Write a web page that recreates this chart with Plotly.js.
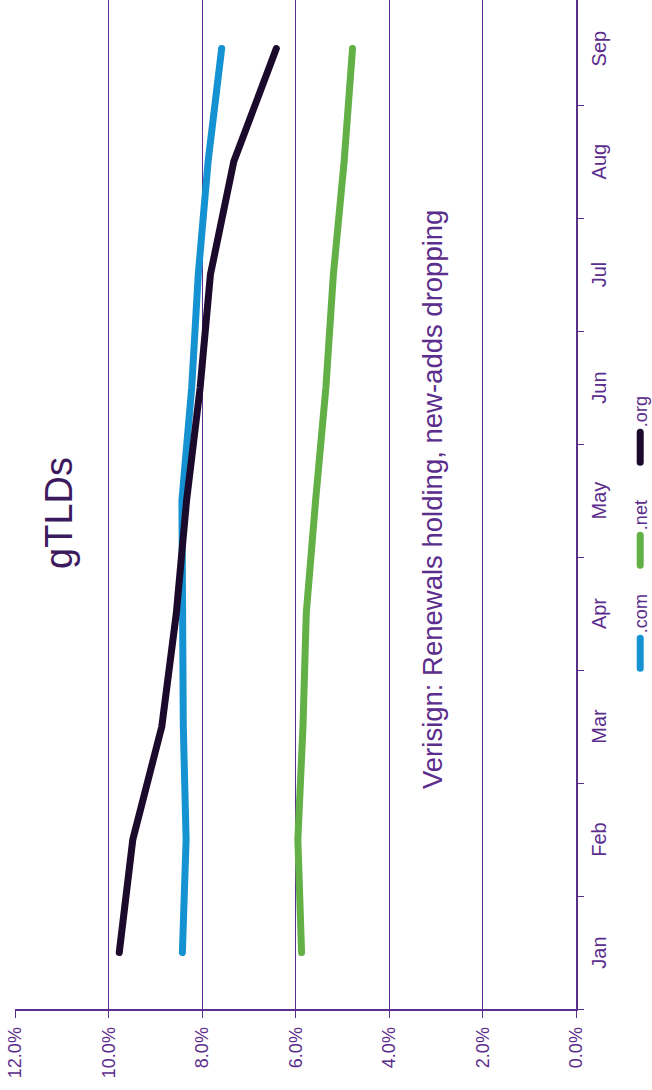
<!DOCTYPE html>
<html>
<head>
<meta charset="utf-8">
<script src="https://cdn.plot.ly/plotly-3.0.1.min.js"></script>
<style>
  html, body { margin: 0; padding: 0; background: #ffffff; overflow: hidden; width: 652px; height: 1090px; }
  #chart {
    position: absolute; left: 0; top: 0;
    width: 1090px; height: 652px;
    transform-origin: 0 0;
    transform: translateY(1090px) rotate(-90deg);
  }
  #chart .scatterlayer path.js-line, #chart .legendlines path { stroke-linecap: round; }
</style>
</head>
<body>
<div id="chart"></div>
<script>
// Data (percent)
const months = ["Jan", "Feb", "Mar", "Apr", "May", "Jun", "Jul", "Aug", "Sep"];
const comValues = [8.42, 8.34, 8.40, 8.40, 8.43, 8.22, 8.08, 7.87, 7.58];
const netValues = [5.87, 5.95, 5.84, 5.77, 5.57, 5.35, 5.19, 4.96, 4.78];
const orgValues = [9.77, 9.48, 8.86, 8.55, 8.33, 8.04, 7.82, 7.32, 6.41];
const seriesNames = [".com", ".net", ".org"];
const chartTitle = "gTLDs";
const subtitle = "Verisign: Renewals holding, new-adds dropping";

const purple = "#5b2d8c";
const darkPurple = "#3d1a5e";
const colors = ["#1592d1", "#63b046", "#1b0a2c"];
const font = "Liberation Sans, Arial, sans-serif";

const allValues = [comValues, netValues, orgValues];
const traces = allValues.map((vals, i) => ({
  type: "scatter",
  mode: "lines",
  x: months,
  y: vals,
  name: seriesNames[i],
  line: { color: colors[i], width: 7 },
  hoverinfo: "skip"
}));

const layout = {
  width: 1090,
  height: 652,
  margin: { l: 81, r: 0, t: 15, b: 76, autoexpand: false },
  paper_bgcolor: "#ffffff",
  plot_bgcolor: "#ffffff",
  font: { family: font, color: purple, size: 16 },
  showlegend: true,
  legend: {
    orientation: "h",
    x: 0.486, xanchor: "center",
    y: -0.115, yanchor: "middle",
    entrywidth: 58,
    entrywidthmode: "pixels",
    font: { family: font, size: 18, color: purple },
    traceorder: "normal"
  },
  title: {
    text: chartTitle,
    font: { family: font, size: 38, color: darkPurple },
    x: 577 / 1090, xanchor: "center", xref: "container",
    y: 1 - 59 / 652, yanchor: "middle", yref: "container"
  },
  annotations: [{
    text: subtitle,
    xref: "paper", yref: "paper",
    x: (590 - 81) / 1009, xanchor: "center",
    y: (576 - 432) / 561, yanchor: "middle",
    showarrow: false,
    font: { family: font, size: 27.5, color: purple }
  }],
  xaxis: {
    type: "category",
    range: [-0.5, 8.43],
    tickson: "boundaries",
    ticks: "outside",
    ticklen: 6,
    tickcolor: purple,
    ticklabelstandoff: 4,
    showline: true,
    linecolor: purple,
    linewidth: 1.5,
    showgrid: false,
    tickfont: { family: font, size: 20, color: purple },
    fixedrange: true
  },
  yaxis: {
    range: [0, 12],
    dtick: 2,
    tick0: 0,
    tickformat: ".1f",
    ticksuffix: "%",
    ticks: "outside",
    ticklen: 7,
    tickcolor: purple,
    ticklabelstandoff: 6,
    showline: true,
    linecolor: purple,
    linewidth: 1.5,
    showgrid: true,
    gridcolor: purple,
    gridwidth: 1,
    zeroline: false,
    tickfont: { family: font, size: 18, color: purple },
    fixedrange: true
  }
};

Plotly.newPlot("chart", traces, layout, { displayModeBar: false, staticPlot: true });
</script>
</body>
</html>
